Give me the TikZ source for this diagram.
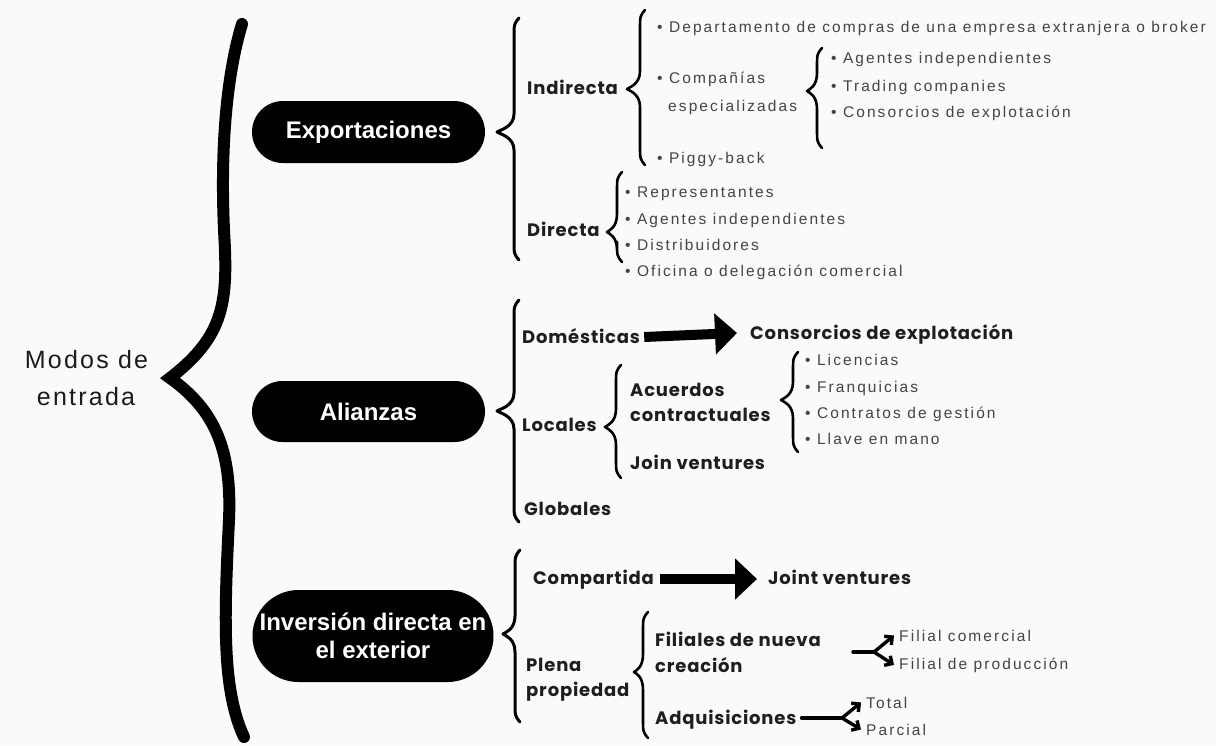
\documentclass[tikz,border=0pt]{standalone}
\usepackage{fontspec}
\setmainfont{Liberation Sans}
\newfontfamily\popf{Poppins}[LetterSpace=4.5]
\newfontfamily\itemf{Liberation Sans}[LetterSpace=13.5]
\newfontfamily\rootf{Liberation Sans}[LetterSpace=9]
\usetikzlibrary{arrows.meta}
\definecolor{bg}{HTML}{FAFAFA}
\definecolor{ink}{HTML}{1E1E1E}
\definecolor{itemgray}{HTML}{444444}

% curly brace: #2 = x of the stem, #3 = top, #4/#5 = tip, #6 = bottom
\newcommand\curlybrace[6][2.6pt]{%
  \draw[line width=#1, line cap=round, line join=round]
    (#2+5,#3) .. controls (#2,#3+6) .. (#2,#3+20) -- (#2,#5-18)
    .. controls (#2,#5-5) and (#4+3,#5-2) .. (#4,#5)
    .. controls (#4+3,#5+2) and (#2,#5+5) .. (#2,#5+18)
    -- (#2,#6-20) .. controls (#2,#6-6) .. (#2+5,#6);}

\begin{document}
\begin{tikzpicture}[x=1pt,y=-1pt,
  pill/.style={fill=black, text=white, align=center, inner sep=0pt,
    font=\fontsize{24}{28}\selectfont\bfseries},
  lab/.style={font=\popf\fontsize{18}{20}\selectfont\bfseries, text=ink,
    inner sep=0pt, anchor=base west},
  itm/.style={font=\itemf\fontsize{15.5}{18}\selectfont, text=itemgray,
    inner sep=0pt, anchor=base west},
  rootlab/.style={font=\rootf\fontsize{25}{30}\selectfont, text=ink!90!black,
    inner sep=0pt, anchor=base},
  blockarrow/.style={line width=10pt, -{Triangle[length=22pt,width=40pt]}},
  forkline/.style={line width=3.4pt, line cap=round},
  forkarrow/.style={line width=3.4pt, -{Straight Barb[angle=90:8pt]}},
]
\useasboundingbox (0,0) rectangle (1216,745);
\fill[bg] (0,0) rectangle (1216,745);

% root
\node[rootlab] (root1) at (86.5,368) {Modos de};
\node[rootlab] (root2) at (86,405) {entrada};

% main brace
\draw[line width=12pt, line cap=round]
  (242,24) .. controls (228,70) and (220,140) .. (224,230)
  .. controls (228,300) and (226,335) .. (170,378)
  .. controls (215,410) and (232,450) .. (229,520)
  .. controls (224,620) and (222,690) .. (244,737);

% first level
\node[pill, minimum width=233pt, minimum height=62pt, rounded corners=31pt]
  (exp) at (368.5,132) {Exportaciones};
\node[pill, minimum width=233pt, minimum height=61pt, rounded corners=30.5pt]
  (ali) at (368.5,411.5) {Alianzas};
\node[pill, minimum width=241pt, minimum height=92pt, rounded corners=46pt]
  (inv) at (373,636) {Inversión directa en\\el exterior};

% ---- Exportaciones
\curlybrace[3pt]{514}{18}{497}{132}{260}
\node[lab] (ind) at (527,94) {Indirecta};
\node[lab] (dir) at (527,236) {Directa};

\curlybrace{640}{10}{627}{89}{165}
\node[itm] (dep) at (657,32) {\textbullet\ Departamento de compras de una empresa extranjera o broker};
\node[itm] (comp1) at (657,83) {\textbullet\ Compañías};
\node[itm] (comp2) at (668,111) {especializadas};
\node[itm] (pig) at (657,163) {\textbullet\ Piggy-back};

\curlybrace{817}{48}{807}{91}{148}
\node[itm] (ag1) at (831,63) {\textbullet\ Agentes independientes};
\node[itm] (trad) at (831,91) {\textbullet\ Trading companies};
\node[itm] (cons1) at (831,117) {\textbullet\ Consorcios de explotación};

\curlybrace{617}{172}{607}{232}{262}
\node[itm] (rep) at (625,197) {\textbullet\ Representantes};
\node[itm] (ag2) at (625,224) {\textbullet\ Agentes independientes};
\node[itm] (dis) at (625,250) {\textbullet\ Distribuidores};
\node[itm] (ofi) at (625,276) {\textbullet\ Oficina o delegación comercial};

% ---- Alianzas
\curlybrace[3pt]{514}{300}{497}{411}{522}
\node[lab] (dom) at (522,343) {Domésticas};
\node[lab] (consx) at (750,339) {Consorcios de explotación};
\draw[blockarrow] ([shift={(4,-6)}]dom.base east) -- ([shift={(-13,-6)}]consx.base west);

\node[lab] (loc) at (522,431) {Locales};
\curlybrace{616}{365}{605}{427}{478}
\node[lab] (acu1) at (630,396) {Acuerdos};
\node[lab] (acu2) at (630,421) {contractuales};
\node[lab] (join) at (630,469) {Join ventures};

\curlybrace{793}{352}{781}{400}{452}
\node[itm] (lic) at (805,365) {\textbullet\ Licencias};
\node[itm] (fra) at (805,392) {\textbullet\ Franquicias};
\node[itm] (con) at (805,418) {\textbullet\ Contratos de gestión};
\node[itm] (lla) at (805,444) {\textbullet\ Llave en mano};

\node[lab] (glo) at (524,515) {Globales};

% ---- Inversión directa
\curlybrace[3pt]{515}{550}{503}{634}{722}
\node[lab] (compt) at (533,584) {Compartida};
\node[lab] (jv) at (768,584) {Joint ventures};
\draw[blockarrow] ([shift={(6,-5)}]compt.base east) -- ([shift={(-11,-5)}]jv.base west);

\node[lab] (ple1) at (526,671) {Plena};
\node[lab] (ple2) at (526,696) {propiedad};
\curlybrace{643}{612}{634}{672}{738}
\node[lab] (fil1) at (655,646) {Filiales de nueva};
\node[lab] (fil2) at (655,672) {creación};
\node[lab] (adq) at (655,724) {Adquisiciones};

\node[itm] (fc) at (899,641) {Filial comercial};
\node[itm] (fp) at (899,669) {Filial de producción};
\node[itm] (tot) at (866,708) {Total};
\node[itm] (par) at (866,735) {Parcial};

\coordinate (ffs) at (853,652);
\coordinate (ff) at (874,652);
\draw[forkline] (ffs) -- (ff);
\draw[forkarrow] (ff) -- ([xshift=-5pt]fc.west);
\draw[forkarrow] (ff) -- ([xshift=-5pt]fp.west);

\coordinate (af) at (842,718);
\draw[forkline] ([xshift=5pt]adq.east |- af) -- (af);
\draw[forkarrow] (af) -- ([xshift=-5pt]tot.west);
\draw[forkarrow] (af) -- ([xshift=-5pt]par.west);
\end{tikzpicture}
\end{document}
